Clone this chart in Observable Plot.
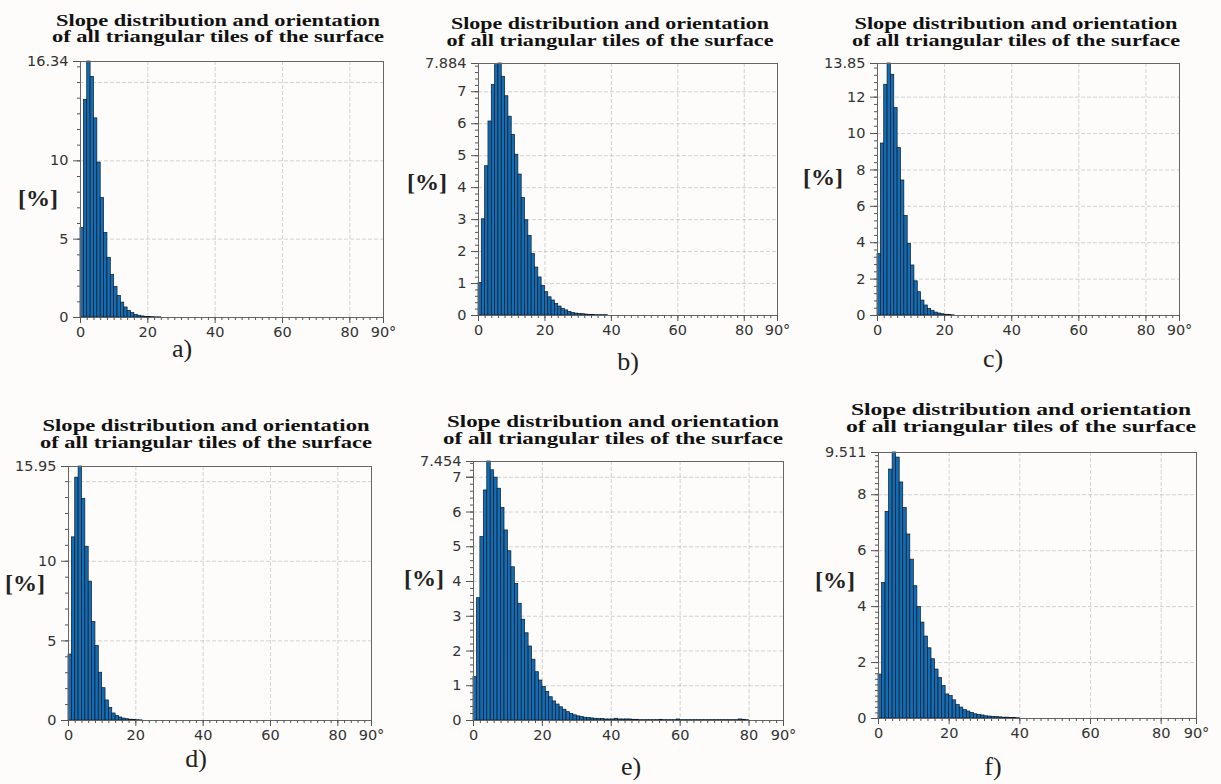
<!DOCTYPE html>
<html><head><meta charset="utf-8">
<script src="https://cdn.jsdelivr.net/npm/d3@7"></script>
<script src="https://cdn.jsdelivr.net/npm/@observablehq/plot@0.6"></script>
<style>
body{margin:0;background:#fdfcfa;}
#root{position:relative;width:1221px;height:784px;overflow:hidden;}
#root > .panel{position:absolute;}
#overlay{position:absolute;left:0;top:0;}
</style></head><body><div id="root"></div>
<script>
// ---- data (percent of tiles per 1° slope bin, starting at 0°) ----
const slopeA = [5.72,13.88,16.34,15.36,12.71,9.89,7.63,5.40,3.81,2.71,1.95,1.38,0.95,0.64,0.42,0.28,0.17,0.11,0.07,0.04,0.03,0.02,0.01,0.01];
const slopeB = [1.02,3.01,4.67,6.07,7.21,7.83,7.884,7.47,6.86,6.22,5.65,5.03,4.41,3.68,2.98,2.49,1.92,1.50,1.19,0.93,0.73,0.57,0.47,0.36,0.28,0.21,0.16,0.11,0.08,0.06,0.05,0.04,0.03,0.02,0.02,0.01,0.01,0.01,0.01];
const slopeC = [3.38,9.45,12.68,13.85,13.23,11.40,9.20,7.42,5.47,3.94,2.75,1.88,1.28,0.82,0.55,0.36,0.26,0.16,0.11,0.07,0.04,0.02,0.01];
const slopeD = [4.14,11.50,15.25,15.95,13.92,10.91,8.72,6.19,4.68,3.00,2.03,1.26,0.79,0.44,0.29,0.19,0.12,0.08,0.05,0.03,0.02,0.01];
const slopeE = [1.25,3.52,5.28,6.62,7.454,7.20,6.99,6.67,6.12,5.47,4.87,4.41,3.93,3.36,2.90,2.51,2.13,1.75,1.39,1.15,0.96,0.82,0.67,0.55,0.46,0.38,0.31,0.24,0.19,0.15,0.12,0.10,0.08,0.07,0.06,0.05,0.04,0.04,0.03,0.03,0.03,0.05,0.03,0.03,0.03,0.03,0.02,0.02,0.01,0.01,0.01,0.01,0.01,0.01,0.02,0.01,0.01,0.01,0.01,0.03,0.01,0.01,0.01,0.01,0.01,0.01,0.01,0.01,0.01,0.01,0.01,0.01,0.01,0.01,0.01,0.01,0.01,0.03,0.02,0.01];
const slopeF = [1.57,4.84,7.39,8.90,9.511,9.33,8.44,7.53,6.58,5.68,4.73,3.99,3.43,2.93,2.51,2.12,1.75,1.45,1.16,0.86,0.80,0.65,0.48,0.39,0.30,0.25,0.20,0.15,0.13,0.11,0.08,0.07,0.06,0.05,0.04,0.03,0.03,0.02,0.02,0.01];
const panelSeries = [slopeA, slopeB, slopeC, slopeD, slopeE, slopeF];
const panelLetters = ["a)","b)","c)","d)","e)","f)"];
const peakValues = [16.34, 7.884, 13.85, 15.95, 7.454, 9.511];
const peakLabels = ["16.34","7.884","13.85","15.95","7.454","9.511"];
const yMajor = [[0,5,10],[0,1,2,3,4,5,6,7],[0,2,4,6,8,10,12],[0,5,10],[0,1,2,3,4,5,6,7],[0,2,4,6,8]];
const yHidden = [[],[],[],[],[7],[]];
const yGrid = [[5,10,15],[1,2,3,4,5,6,7],[2,4,6,8,10,12],[5,10,15],[1,2,3,4,5,6,7],[2,4,6,8]];
const yMinorStep = [1,0.2,0.4,1,0.2,0.2];
const xTicks = [0,20,40,60,80,90];
const xTickLabels = ["0","20","40","60","80","90°"];
const xGrid = [20,40,60,80];
const titleLines = ["Slope distribution and orientation","of all triangular tiles of the surface"];
const yLabel = "[%]";

// ---- layout ----
const frames = [ // left, right, top, bottom of plot frame
  [80,383,61,317],[478,777,63,315],[877,1179,63,315],
  [68,371,466,720],[473,783,461,720],[878,1196,452,718]];
const titlePos = [ // cx, baseline line1, baseline line2, width line1, width line2
  [218,26,42,324,332],[610,29,46,318,327],[1016,29,46,323,328],
  [206,431,448,327,332],[613,427,444,332,340],[1021,415,432,340,350]];
const letterPos = [[182,357],[628,370],[993,367],[196,767],[631,775],[993,775]];
const yLabelPos = [[38,206],[427,190],[823,185],[25,591],[424,586],[835,588]];

const root = document.getElementById("root");
const mL=60,mR=30,mT=10,mB=32;

panelSeries.forEach((series,k)=>{
  const [L,R,T,B] = frames[k];
  const bins = series.map((v,i)=>({x1:i,x2:i+1,v}));
  const peak = peakValues[k];
  const minor = d3.range(0, peak, yMinorStep[k]);
  const xMinor = d3.range(0, 91, 2);
  const majors = yMajor[k].filter(t=>t<peak-0.3).concat([peak]);
  const svg = Plot.plot({
    width: (R-L)+mL+mR, height: (B-T)+mT+mB,
    marginLeft:mL, marginRight:mR, marginTop:mT, marginBottom:mB,
    style:{fontFamily:"DejaVu Sans, Verdana, sans-serif",fontSize:"14.5px",color:"#333",background:"transparent",overflow:"visible"},
    x:{domain:[0,90],label:null},
    y:{domain:[0,peak],label:null},
    marks:[
      Plot.gridX(xGrid,{stroke:"#aaa",strokeOpacity:0.5,strokeDasharray:"4,2"}),
      Plot.gridY(yGrid[k].filter(t=>t<peak),{stroke:"#aaa",strokeOpacity:0.5,strokeDasharray:"4,2"}),
      Plot.rectY(bins,{x1:"x1",x2:"x2",y:"v",fill:"#146cb2",stroke:"#0c1a2b",strokeWidth:0.7}),
      Plot.frame({stroke:"#666"}),
      Plot.axisY(minor,{tickSize:3,tickFormat:()=>"",label:null,stroke:"#555"}),
      Plot.axisY(yHidden[k],{tickSize:7,tickFormat:()=>"",label:null,stroke:"#555"}),
      Plot.axisY(majors,{tickSize:7,tickPadding:5,label:null,stroke:"#555",
        tickFormat:d=>d===peak?peakLabels[k]:String(d)}),
      Plot.axisX(xMinor,{tickSize:3,tickFormat:()=>"",label:null,stroke:"#555"}),
      Plot.axisX(xTicks,{tickSize:6,tickPadding:3,label:null,stroke:"#555",
        tickFormat:d=>xTickLabels[xTicks.indexOf(d)]})
    ]
  });
  svg.classList.add("panel");
  svg.style.left=(L-mL)+"px";
  svg.style.top=(T-mT)+"px";
  root.appendChild(svg);
});

// overlay with titles and labels
const ov = d3.select(root).append("svg").attr("id","overlay").attr("width",1221).attr("height",784)
  .style("font-family","'Liberation Serif','Times New Roman',serif");
titlePos.forEach(([cx,b1,b2,w1,w2])=>{
  const g = ov.append("g").attr("text-anchor","middle").attr("font-weight","bold").attr("font-size",16).attr("fill","#111");
  g.append("text").attr("x",cx).attr("y",b1).attr("textLength",w1).attr("lengthAdjust","spacingAndGlyphs").text(titleLines[0]);
  g.append("text").attr("x",cx).attr("y",b2).attr("textLength",w2).attr("lengthAdjust","spacingAndGlyphs").text(titleLines[1]);
});
letterPos.forEach(([x,y],k)=>{
  ov.append("text").attr("x",x).attr("y",y).attr("text-anchor","middle").attr("font-size",26).attr("fill","#222").text(panelLetters[k]);
});
yLabelPos.forEach(([x,y])=>{
  ov.append("text").attr("x",x).attr("y",y).attr("text-anchor","middle").attr("font-weight","bold").attr("font-size",24).attr("fill","#222").text(yLabel);
});
</script></body></html>
